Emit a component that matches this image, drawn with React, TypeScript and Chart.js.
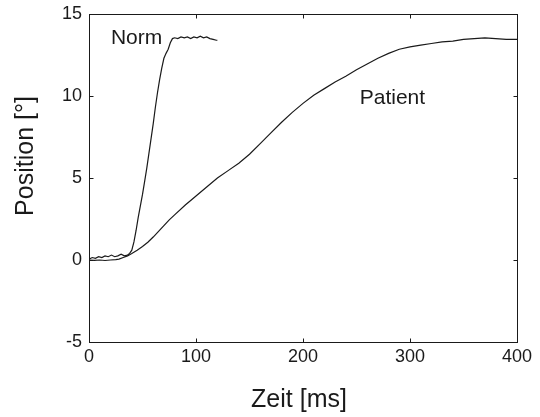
import React, { useEffect, useRef } from "react";
import { Chart, registerables } from "chart.js";

Chart.register(...registerables);

// Norm series (ms, degrees)
const normTime = [0, 3, 6, 9, 12, 15, 18, 21, 24, 27, 30, 33, 36, 38, 40, 42, 44, 46, 48, 50, 52, 54, 56, 58, 60, 62, 64, 66, 68, 70, 72, 74, 76, 78, 80, 83, 86, 89, 92, 95, 98, 101, 104, 107, 110, 113, 116, 119, 120];
const normPos = [0.05, 0.15, 0.1, 0.2, 0.15, 0.25, 0.2, 0.3, 0.2, 0.25, 0.35, 0.25, 0.3, 0.4, 0.6, 1.1, 1.8, 2.6, 3.3, 4.0, 4.8, 5.6, 6.5, 7.4, 8.3, 9.3, 10.2, 11.0, 11.7, 12.3, 12.6, 12.85, 13.25, 13.5, 13.55, 13.5, 13.6, 13.55, 13.6, 13.5, 13.6, 13.55, 13.65, 13.55, 13.6, 13.5, 13.45, 13.4, 13.4];

// Patient series (ms, degrees)
const patientTime = [0, 5, 10, 15, 20, 25, 28, 32, 36, 40, 45, 50, 55, 60, 65, 70, 75, 80, 90, 100, 110, 120, 130, 140, 150, 160, 170, 180, 190, 200, 210, 220, 230, 240, 250, 260, 270, 280, 290, 300, 310, 320, 330, 340, 350, 360, 370, 380, 390, 400];
const patientPos = [0.0, -0.02, 0.0, -0.03, 0.0, 0.02, 0.05, 0.15, 0.25, 0.4, 0.6, 0.82, 1.08, 1.4, 1.75, 2.1, 2.45, 2.75, 3.35, 3.9, 4.45, 5.0, 5.45, 5.9, 6.45, 7.1, 7.75, 8.4, 9.0, 9.55, 10.05, 10.45, 10.85, 11.2, 11.6, 11.95, 12.3, 12.6, 12.85, 13.0, 13.1, 13.2, 13.3, 13.35, 13.45, 13.5, 13.55, 13.5, 13.45, 13.45];

const xTicks = [0, 100, 200, 300, 400];
const yTicks = [-5, 0, 5, 10, 15];
const xTitle = "Zeit [ms]";
const yTitle = "Position [°]";
const labels = [
  { text: "Norm", x: 20.5, y: 13.2 },
  { text: "Patient", x: 253, y: 9.5 },
];

const FONT = "'Liberation Sans', Arial, Helvetica, sans-serif";
const INK = "#1a1a1a";

export default function App() {
  const ref = useRef<HTMLCanvasElement | null>(null);

  useEffect(() => {
    document.body.style.margin = "0";
    const canvas = ref.current;
    if (!canvas) return;

    const decor = {
      id: "decor",
      afterDraw(chart: any) {
        const { ctx, chartArea } = chart;
        const xs = chart.scales.x;
        const ys = chart.scales.y;
        const L = Math.round(chartArea.left) + 0.5;
        const R = Math.round(chartArea.right) + 0.5;
        const T = Math.round(chartArea.top) + 0.5;
        const B = Math.round(chartArea.bottom) + 0.5;
        ctx.save();
        ctx.strokeStyle = INK;
        ctx.lineWidth = 1;
        ctx.strokeRect(L, T, R - L, B - T);
        const tl = 4;
        ctx.beginPath();
        xTicks.forEach((v) => {
          const px = Math.round(xs.getPixelForValue(v)) + 0.5;
          ctx.moveTo(px, B);
          ctx.lineTo(px, B - tl);
          ctx.moveTo(px, T);
          ctx.lineTo(px, T + tl);
        });
        yTicks.forEach((v) => {
          const py = Math.round(ys.getPixelForValue(v)) + 0.5;
          ctx.moveTo(L, py);
          ctx.lineTo(L + tl, py);
          ctx.moveTo(R, py);
          ctx.lineTo(R - tl, py);
        });
        ctx.stroke();

        ctx.fillStyle = INK;
        ctx.font = `21px ${FONT}`;
        ctx.textAlign = "left";
        ctx.textBaseline = "alphabetic";
        labels.forEach((l) => {
          ctx.fillText(l.text, xs.getPixelForValue(l.x), ys.getPixelForValue(l.y));
        });

        ctx.font = `25px ${FONT}`;
        ctx.textAlign = "center";
        ctx.fillText(xTitle, (chartArea.left + chartArea.right) / 2 - 4, 407);
        ctx.save();
        ctx.translate(33, 156);
        ctx.rotate(-Math.PI / 2);
        ctx.fillText(yTitle, 0, 0);
        ctx.restore();
        ctx.restore();
      },
    };

    const chart = new Chart(canvas, {
      type: "line",
      data: {
        datasets: [
          {
            label: "Norm",
            data: normTime.map((t, i) => ({ x: t, y: normPos[i] })),
            borderColor: INK,
            borderWidth: 1.2,
            pointRadius: 0,
            tension: 0,
          },
          {
            label: "Patient",
            data: patientTime.map((t, i) => ({ x: t, y: patientPos[i] })),
            borderColor: INK,
            borderWidth: 1.2,
            pointRadius: 0,
            tension: 0,
          },
        ],
      },
      options: {
        animation: false,
        responsive: false,
        devicePixelRatio: 1,
        layout: { padding: { top: 14, right: 23, left: 0, bottom: 0 } },
        plugins: { legend: { display: false }, tooltip: { enabled: false } },
        scales: {
          x: {
            type: "linear",
            min: 0,
            max: 400,
            afterFit: (s: any) => {
              s.height = 75;
              s.paddingLeft = 0;
              s.paddingRight = 0;
            },
            afterBuildTicks: (s: any) => {
              s.ticks = xTicks.map((v) => ({ value: v }));
            },
            grid: { display: false, drawTicks: false },
            border: { display: false },
            ticks: { font: { size: 18, family: FONT }, color: INK, padding: 4, maxRotation: 0 },
          },
          y: {
            type: "linear",
            min: -5,
            max: 15,
            afterFit: (s: any) => {
              s.width = 89;
              s.paddingTop = 0;
              s.paddingBottom = 0;
            },
            afterBuildTicks: (s: any) => {
              s.ticks = yTicks.map((v) => ({ value: v }));
            },
            grid: { display: false, drawTicks: false },
            border: { display: false },
            ticks: { font: { size: 18, family: FONT }, color: INK, padding: 7 },
          },
        },
      },
      plugins: [decor],
    });
    return () => chart.destroy();
  }, []);

  return (
    <div style={{ width: 540, height: 417, position: "relative" }}>
      <canvas ref={ref} width={540} height={417} />
    </div>
  );
}
